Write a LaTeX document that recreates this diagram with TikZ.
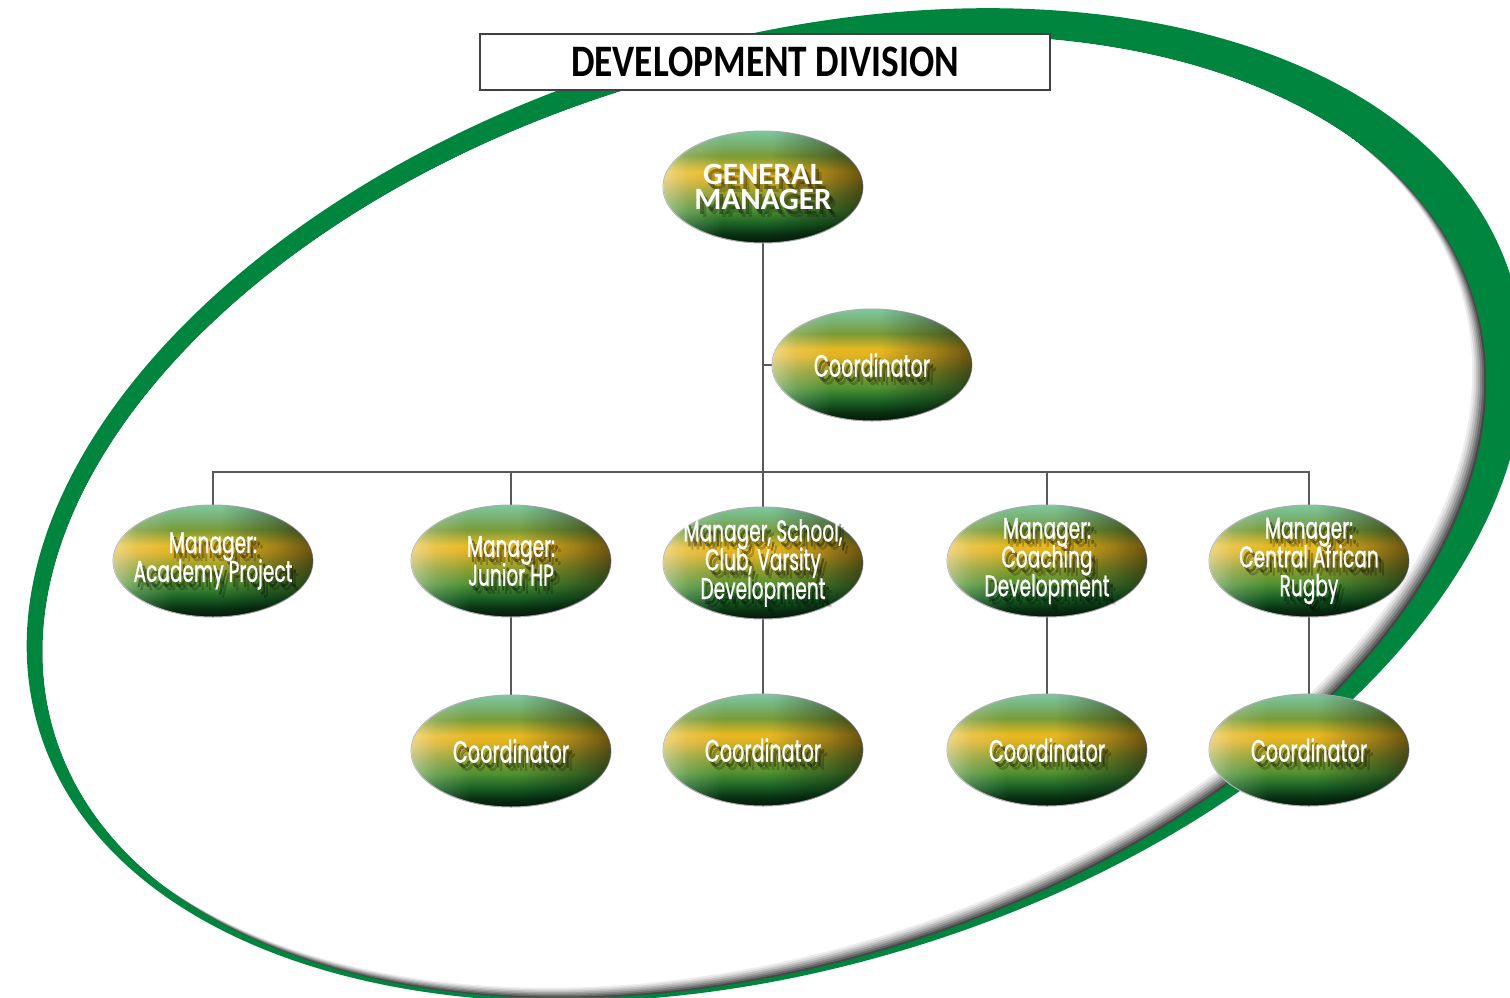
\documentclass[tikz,border=0pt]{standalone}
\usepackage{fontspec}
\usetikzlibrary{shapes.geometric,fadings}
\newfontfamily\titlefont{Carlito}[FakeStretch=0.83]
\newfontfamily\gmfont{Carlito}
\newfontfamily\boxfont{Poppins}[FakeStretch=0.62, FakeBold=0.8]
\definecolor{swoosh}{RGB}{0,133,62}
\definecolor{sA}{RGB}{125,200,160}
\definecolor{sB}{RGB}{120,175,110}
\definecolor{sC}{RGB}{120,155,55}
\definecolor{sD}{RGB}{232,185,32}
\definecolor{sE}{RGB}{222,178,35}
\definecolor{sF}{RGB}{145,158,45}
\definecolor{sG}{RGB}{80,145,50}
\definecolor{sH}{RGB}{28,100,38}
\definecolor{sI}{RGB}{8,50,18}
\definecolor{sJ}{RGB}{8,22,10}
\pgfdeclareverticalshading{orgsh}{100bp}{color(0bp)=(sJ); color(25bp)=(sJ); color(29bp)=(sI); color(34bp)=(sH); color(40bp)=(sG); color(47bp)=(sF); color(54bp)=(sE); color(57bp)=(sD); color(64bp)=(sC); color(69bp)=(sB); color(75bp)=(sA); color(100bp)=(sA)}
\pgfdeclarehorizontalshading{rdarksh}{100bp}{color(0bp)=(black); color(52bp)=(black); color(66bp)=(black!45); color(75bp)=(white); color(100bp)=(white)}
\pgfdeclarefading{rdark}{\pgfuseshading{rdarksh}}
\pgfdeclarehorizontalshading{llightsh}{100bp}{color(0bp)=(white); color(25bp)=(white); color(31bp)=(black!60); color(40bp)=(black); color(100bp)=(black)}
\pgfdeclarefading{llight}{\pgfuseshading{llightsh}}
\tikzset{
  orgbox/.style={ellipse, draw=gray!65, line width=0.5pt, shading=orgsh, shade,
    minimum width=100pt, minimum height=56pt, inner sep=0pt},
  txt/.style={align=center, inner sep=0pt},
  conn/.style={draw=black!65, line width=0.6pt},
  titlebox/.style={draw=black!75, line width=0.6pt, fill=white,
    minimum width=285pt, minimum height=28pt, inner sep=0pt},
  outerell/.style={rotate around={17:(775.5,505)}},
}
\newcommand\mgrf{\boxfont\fontsize{15}{14.4}\selectfont\lineskiplimit=-20pt\lineskip=0pt}
\newcommand\crdf{\boxfont\fontsize{15.5}{18}\selectfont}
\newcommand\gmf{\gmfont\bfseries\fontsize{15.5}{12.8}\selectfont\lineskiplimit=-20pt\lineskip=0pt}
\newcommand\orgnode[5]{%
  \node[orgbox] (#1) at (#2,#3) {};
  \fill[black, opacity=.55, path fading=rdark] (#1.center) ellipse [x radius=50pt, y radius=28pt];
  \fill[white, opacity=.45, path fading=llight] (#1.center) ellipse [x radius=50pt, y radius=28pt];
  \node[txt, font=#4, text=black, opacity=.2, xshift=3.2pt, yshift=-4pt] (#1-s1) at (#1.center) {#5};
  \node[txt, font=#4, text=black, opacity=.35, xshift=1.8pt, yshift=-2.4pt] (#1-s2) at (#1.center) {#5};
  \node[txt, font=#4, text=white] (#1-t) at (#1.center) {#5};
}
\begin{document}
\begin{tikzpicture}[x=0.5pt, y=-0.5pt]
\useasboundingbox (0,0) rectangle (1510,997);
\clip (0,0) rectangle (1510,997);
\fill[white] (0,0) rectangle (1510,997);
% green swoosh: outer ellipse
\fill[swoosh, outerell] (775.5,505) ellipse [x radius=385pt, y radius=231.5pt];
% white interior with a soft shadow along the lower-right inner edge
\begin{scope}
  \clip[rotate around={17:(764.5,517)}] (764.5,517) ellipse [x radius=371pt, y radius=224.5pt];
  \fill[black!72] (0,0) rectangle (1510,997);
  \foreach \dx/\dy/\c in {-2/-1.5/black!60, -4/-3/black!48, -6/-4.5/black!36, -8/-6/black!25, -10/-7.5/black!15, -12/-9/black!7, -14/-10.5/white}
    \fill[\c, rotate around={17:(764.5+\dx,517+\dy)}] (764.5+\dx,517+\dy) ellipse [x radius=371pt, y radius=224.5pt];
\end{scope}
% title
\node[titlebox] (title) at (765,62) {\raisebox{-1.8pt}{\titlefont\bfseries\fontsize{22.5}{24}\selectfont DEVELOPMENT DIVISION}};
% connector coordinates
\coordinate (bus) at (763,472);
\coordinate (gmb) at (763,240);
\coordinate (c0w) at (775,365);
\coordinate (m1n) at (213,510);
\coordinate (m5n) at (1309,510);
\draw[conn] (gmb) -- (bus);
\draw[conn] (gmb |- c0w) -- (c0w);
\draw[conn] (m1n) -- (m1n |- bus) -- (m5n |- bus) -- (m5n);
\foreach \x in {511,763,1047}
  \draw[conn] (\x,472) -- (\x,510);
\foreach \x in {511,763,1047,1309}
  \draw[conn] (\x,615) -- (\x,700);
% nodes
\orgnode{gm}{763}{187}{\gmf}{GENERAL\\MANAGER}
\orgnode{c0}{872}{365}{\crdf}{Coordinator}
\orgnode{m1}{213}{561}{\mgrf}{Manager:\\Academy Project}
\orgnode{m2}{511}{561}{\mgrf}{Manager:\\Junior HP}
\orgnode{m3}{763}{563}{\mgrf}{Manager, School,\\Club, Varsity\\Development}
\orgnode{m4}{1047}{561}{\mgrf}{Manager:\\Coaching\\Development}
\orgnode{m5}{1309}{561}{\mgrf}{Manager:\\Central African\\Rugby}
\orgnode{c2}{511}{751}{\crdf}{Coordinator}
\orgnode{c3}{763}{750}{\crdf}{Coordinator}
\orgnode{c4}{1047}{750}{\crdf}{Coordinator}
\orgnode{c5}{1309}{750}{\crdf}{Coordinator}
\end{tikzpicture}
\end{document}
